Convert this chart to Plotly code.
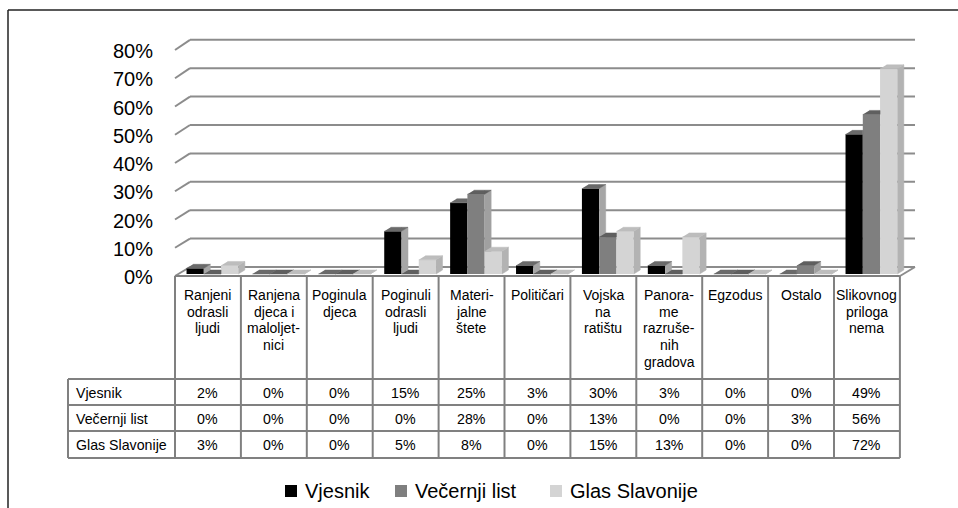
import plotly.graph_objects as go

# ---------------- data ----------------
categories = [
    "Ranjeni\nodrasli\nljudi",
    "Ranjena\ndjeca i\nmaloljet-\nnici",
    "Poginula\ndjeca",
    "Poginuli\nodrasli\nljudi",
    "Materi-\njalne\nštete",
    "Političari",
    "Vojska\nna\nratištu",
    "Panora-\nme\nrazruše-\nnih\ngradova",
    "Egzodus",
    "Ostalo",
    "Slikovnog\npriloga\nnema",
]
series_names = ["Vjesnik", "Večernji list", "Glas Slavonije"]
vjesnik = [2, 0, 0, 15, 25, 3, 30, 3, 0, 0, 49]
vecernji_list = [0, 0, 0, 0, 28, 0, 13, 0, 0, 3, 56]
glas_slavonije = [3, 0, 0, 5, 8, 0, 15, 13, 0, 0, 72]
y_tick_values = [0, 10, 20, 30, 40, 50, 60, 70, 80]
y_tick_labels = ["0%", "10%", "20%", "30%", "40%", "50%", "60%", "70%", "80%"]

series_values = [vjesnik, vecernji_list, glas_slavonije]

# ---------------- styling / layout geometry ----------------
W, H = 958, 508
FONT = "Liberation Sans, Arial, Helvetica, sans-serif"
front_colors = ["#000000", "#7f7f7f", "#d4d4d4"]
top_colors = ["#6a6a6a", "#5f5f5f", "#bdbdbd"]
side_colors = ["#a6a6a6", "#a0a0a0", "#b3b3b3"]
GRID = "#8c8c8c"
TABLE = "#808080"

N = len(categories)
COL_L, COL_W = 175.0, 65.9          # table columns (pixels)
ZERO_PX, PX_PER = 274.0, 2.85       # bar value scale (pixels)
BAR_OFF, BAR_W = 0.175, 0.262       # in category units
DX, DY = 6.5 / COL_W, 4.0 / PX_PER  # 3D depth in data units


def P(px, py):
    return px / W, 1 - py / H


def yf(v):  # front edge of grid
    return 276 - 2.825 * v


def yb(v):  # back wall of grid
    return 267 - 2.84 * v


def clip(poly, inside, inter):
    out = []
    if not poly:
        return out
    for i in range(len(poly)):
        cur, prev = poly[i], poly[i - 1]
        ci, pi = inside(cur), inside(prev)
        if ci:
            if not pi:
                out.append(inter(prev, cur))
            out.append(cur)
        elif pi:
            out.append(inter(prev, cur))
    return out


def clip_y_ge(poly, c):
    def inter(p, q):
        t = (c - p[1]) / (q[1] - p[1])
        return (p[0] + t * (q[0] - p[0]), c)
    return clip(poly, lambda p: p[1] >= c, inter)


def clip_x(poly, c, keep_left):
    def inter(p, q):
        t = (c - p[0]) / (q[0] - p[0])
        return (c, p[1] + t * (q[1] - p[1]))
    if keep_left:
        return clip(poly, lambda p: p[0] <= c, inter)
    return clip(poly, lambda p: p[0] >= c, inter)


fig = go.Figure()

for s, (name, vals) in enumerate(zip(series_names, series_values)):
    off = BAR_OFF + s * BAR_W
    fig.add_trace(go.Bar(
        x=list(range(N)), y=vals, width=BAR_W, offset=off, name=name,
        marker=dict(color=front_colors[s], line=dict(width=0)),
        showlegend=False, hoverinfo="skip",
    ))
    sx, sy, tx, ty = [], [], [], []
    for i, v in enumerate(vals):
        xl = i + off
        xr = xl + BAR_W
        side = [(xr, 0), (xr + DX, DY), (xr + DX, v + DY), (xr, v)]
        top = [(xl, v), (xr, v), (xr + DX, v + DY), (xl + DX, v + DY)]
        if s + 1 < len(series_values):
            c = series_values[s + 1][i]
            side_parts = [clip_y_ge(side, c)]
            top_parts = [clip_x(top, xr, True), clip_y_ge(clip_x(top, xr, False), c)]
        else:
            side_parts = [side]
            top_parts = [top]
        for poly in side_parts:
            if len(poly) >= 3:
                sx += [p[0] for p in poly] + [None]
                sy += [p[1] for p in poly] + [None]
        for poly in top_parts:
            if len(poly) >= 3:
                tx += [p[0] for p in poly] + [None]
                ty += [p[1] for p in poly] + [None]
    fig.add_trace(go.Scatter(x=sx, y=sy, mode="lines", fill="toself",
                             fillcolor=side_colors[s],
                             line=dict(width=0.5, color=side_colors[s]),
                             showlegend=False, hoverinfo="skip"))
    fig.add_trace(go.Scatter(x=tx, y=ty, mode="lines", fill="toself",
                             fillcolor=top_colors[s],
                             line=dict(width=0.5, color=top_colors[s]),
                             showlegend=False, hoverinfo="skip"))

shapes = []
annotations = []


def line(x0, y0, x1, y1, color, width=2, layer="above"):
    a, b = P(x0, y0)
    c, d = P(x1, y1)
    shapes.append(dict(type="line", xref="paper", yref="paper", x0=a, y0=b,
                       x1=c, y1=d, line=dict(color=color, width=width), layer=layer))


def text(px, py, t, size, xanchor="center"):
    a, b = P(px, py)
    annotations.append(dict(xref="paper", yref="paper", x=a, y=b, text=t,
                            showarrow=False, xanchor=xanchor, yanchor="middle",
                            font=dict(family=FONT, size=size, color="#000000")))


# outer border (only left and top edges are inside the picture)
line(8, 10, 8, H + 40, "#222222", 1.5, "below")
line(8, 10, W + 40, 10, "#222222", 1.5, "below")

# 3D grid: front diagonal + back wall lines
for v, lab in zip(y_tick_values, y_tick_labels):
    line(175, yf(v), 190, yb(v), GRID, 2, "below")
    line(190, yb(v), 915, yb(v), GRID, 2, "below")
    text(155, yf(v) + 1, lab, 20, "right")
# floor right edge
line(900, 276, 915, 267, GRID, 2, "below")

# table geometry
col_x = [COL_L + COL_W * k for k in range(N + 1)]
ROW_L = 68
row_y = [379, 405, 431, 458]
HEAD_TOP = 276

line(col_x[0], HEAD_TOP, col_x[-1], HEAD_TOP, TABLE, 2)
for yy in row_y:
    line(ROW_L, yy, col_x[-1], yy, TABLE, 2)
for k, xx in enumerate(col_x):
    line(xx, HEAD_TOP, xx, row_y[-1], TABLE, 2)
line(ROW_L, row_y[0], ROW_L, row_y[-1], TABLE, 2)

# header texts
for k, cat in enumerate(categories):
    cx = COL_L + COL_W * (k + 0.5)
    for j, part in enumerate(cat.split("\n")):
        text(cx, 295 + 16.7 * j, part, 14)

# data rows
for r, (name, vals) in enumerate(zip(series_names, series_values)):
    cy = (row_y[r] + row_y[r + 1]) / 2 + 0.5
    text(74, cy, name, 14.2, "left")
    for k, v in enumerate(vals):
        cx = COL_L + COL_W * (k + 0.5)
        text(cx, cy, f"{v}%", 14.2)

# legend
legend_sq = [285, 395, 550]
legend_tx = [303, 413, 568]
for s, name in enumerate(series_names):
    a, b = P(legend_sq[s], 485)
    c, d = P(legend_sq[s] + 12, 497)
    shapes.append(dict(type="rect", xref="paper", yref="paper", x0=a, y0=d,
                       x1=c, y1=b, fillcolor=front_colors[s],
                       line=dict(width=0), layer="above"))
    text(legend_tx[s], 491, name, 20, "left")

fig.update_layout(
    width=W, height=H, autosize=False,
    margin=dict(l=0, r=0, t=0, b=0, pad=0),
    paper_bgcolor="white", plot_bgcolor="white",
    barmode="overlay", showlegend=False,
    xaxis=dict(visible=False,
               range=[-COL_L / COL_W, (W - COL_L) / COL_W],
               fixedrange=True),
    yaxis=dict(visible=False,
               range=[-(H - ZERO_PX) / PX_PER, ZERO_PX / PX_PER],
               fixedrange=True),
    shapes=shapes, annotations=annotations,
)

fig.write_html(
    "out.html",
    config={"displayModeBar": False, "staticPlot": True},
    post_script="document.body.style.margin='0px';"
                "document.body.style.overflow='hidden';",
)
